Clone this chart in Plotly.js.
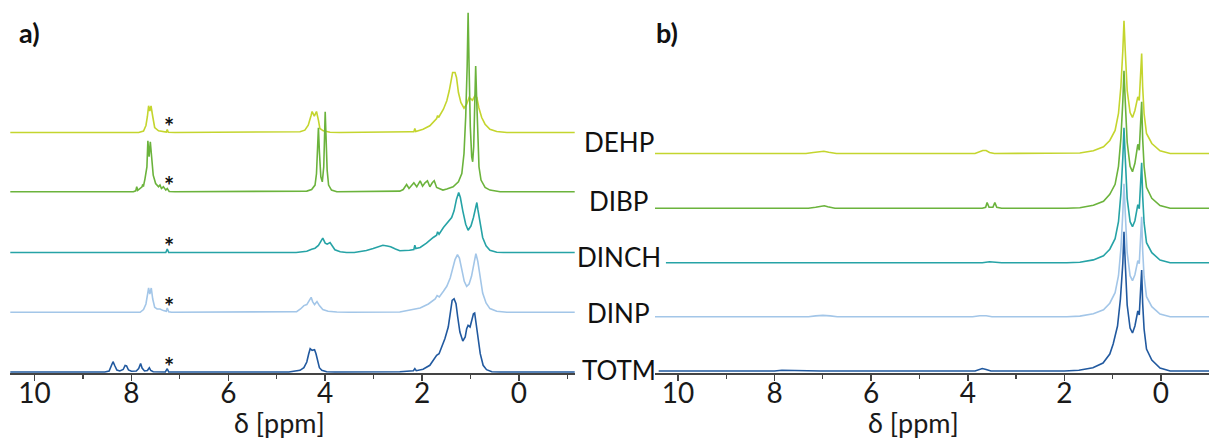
<!DOCTYPE html>
<html>
<head>
<meta charset="utf-8">
<script src="https://cdn.plot.ly/plotly-3.0.1.min.js"></script>
<style>html,body{margin:0;padding:0;background:#fff}#chart{width:1209px;height:438px}</style>
</head>
<body>
<div id="chart"></div>
<script>
// ---- Data: [chemical shift (ppm), intensity (arb. units)] ----
const names = ["DEHP", "DIBP", "DINCH", "DINP", "TOTM"];

const DEHP_a = [[10.5,0],[7.85,0],[7.75,1.5],[7.70,7],[7.67,16],[7.645,26.7],[7.62,21.5],[7.595,26.5],[7.56,16],[7.52,5],[7.44,1.7],[7.35,0.7],[7.28,0.5],[7.26,3],[7.24,0.3],[7.1,0],
[4.6,0],[4.52,0.7],[4.42,2.3],[4.35,7.3],[4.29,17.3],[4.27,21],[4.225,16.3],[4.18,21],[4.14,12.3],[4.11,4],[4.04,1.7],[3.9,0.3],[3.7,0],
[2.46,0],[2.25,0.7],[2.17,0.8],[2.15,4],[2.13,1],[1.98,3.3],[1.84,6.7],[1.73,11.7],[1.70,14],[1.68,17],[1.66,15],[1.56,23.3],[1.49,31.7],[1.44,41.7],[1.40,55],[1.37,60],[1.32,60],[1.29,55],[1.25,40],[1.20,30],[1.135,24.3],[1.08,28.3],[1.03,35],[0.99,33.3],[0.96,32.3],[0.91,36.7],[0.87,35],[0.83,25],[0.77,15],[0.70,8.3],[0.60,3.3],[0.46,1],[0.25,0],[-1.15,0]];

const DIBP_a = [[10.5,0],[7.96,0],[7.91,1],[7.89,5],[7.87,1.5],[7.82,3.3],[7.78,5],[7.77,6.7],[7.75,6],[7.72,13],[7.68,25],[7.66,51],[7.635,35],[7.61,50],[7.58,35],[7.55,16.7],[7.50,8.3],[7.44,5],[7.41,6.7],[7.38,3.3],[7.34,5],[7.29,1.7],[7.26,3.3],[7.22,0.3],[7.1,0],
[4.45,0],[4.38,0.7],[4.28,2.3],[4.21,6.7],[4.18,18],[4.155,45],[4.14,64],[4.12,40],[4.09,15],[4.06,10],[4.03,25],[4.01,61.7],[4.00,80],[3.985,58],[3.96,21.7],[3.93,6.7],[3.87,1.7],[3.76,0],
[2.5,0],[2.46,0.7],[2.39,2.3],[2.32,7.3],[2.27,3.3],[2.21,6.7],[2.17,9],[2.11,5],[2.04,11],[1.99,5.7],[1.94,9],[1.89,11],[1.84,5],[1.79,9],[1.75,11],[1.70,4.3],[1.63,3.3],[1.57,1.7],[1.49,2.7],[1.36,5],[1.25,10],[1.18,18.3],[1.135,38.3],[1.10,75],[1.07,125],[1.05,179],[1.03,125],[1.005,65],[0.976,35],[0.956,30],[0.935,45],[0.915,85],[0.894,125.7],[0.873,91.7],[0.852,48.3],[0.826,25],[0.784,11.7],[0.70,4.3],[0.60,1.7],[0.39,0],[-1.15,0]];

const DINCH_a = [[10.5,0],[7.29,0],[7.26,3.5],[7.23,0],
[4.6,0],[4.52,0.3],[4.38,1.3],[4.28,3.3],[4.21,4.3],[4.14,7],[4.09,11],[4.05,14.3],[4.00,9.3],[3.96,8.3],[3.90,10],[3.85,6],[3.80,2.7],[3.69,0.7],[3.56,0],
[3.4,0],[3.29,0.7],[3.15,2],[3.01,4],[2.90,6],[2.81,7.3],[2.72,6.5],[2.65,5.7],[2.55,3.5],[2.46,1.7],[2.26,2.3],[2.17,3],[2.15,7.3],[2.13,4],[2.04,5],[1.91,9.3],[1.77,15],[1.70,17.3],[1.68,20.7],[1.65,18.3],[1.56,25],[1.49,29.3],[1.445,31.7],[1.39,35],[1.34,41.7],[1.29,53.3],[1.245,60],[1.21,55],[1.16,41.7],[1.10,28.3],[1.05,22.3],[0.99,26.7],[0.94,35],[0.90,45],[0.87,50],[0.85,43.3],[0.80,28.3],[0.75,15],[0.68,6.7],[0.60,2.3],[0.46,0.3],[0.32,0],[-1.15,0]];

const DINP_a = [[10.5,0],[7.82,0],[7.75,2.7],[7.70,8.3],[7.66,20],[7.645,24.3],[7.62,18.3],[7.59,24.3],[7.56,13.3],[7.52,5],[7.47,3.3],[7.41,3.3],[7.34,1.7],[7.28,1],[7.26,4.3],[7.23,0.5],[7.17,0],
[4.66,0],[4.59,0.7],[4.51,3.3],[4.44,6.7],[4.38,7.7],[4.33,11.7],[4.29,15],[4.26,10.7],[4.22,7.7],[4.17,10.7],[4.12,6.7],[4.05,2.7],[3.94,1],[3.76,0.3],[3.5,0],
[2.46,0.3],[2.25,2],[2.04,4.3],[1.87,8.3],[1.73,13.3],[1.69,16.7],[1.645,15.3],[1.56,21],[1.49,26],[1.42,34.3],[1.37,42.7],[1.32,52.7],[1.27,57.7],[1.23,54.3],[1.18,42.7],[1.13,31],[1.08,26],[1.03,28.3],[0.98,36],[0.93,49.3],[0.89,58.7],[0.85,51],[0.80,34.3],[0.75,19.3],[0.68,9.3],[0.60,3.7],[0.46,1],[0.25,0],[-1.15,0]];

const TOTM_a = [[10.5,0],[8.55,0],[8.46,1],[8.41,6],[8.38,10.3],[8.34,6],[8.30,2],[8.24,1],[8.17,2.5],[8.13,6.5],[8.10,6],[8.06,2],[8.00,0.7],[7.90,1],[7.85,3.5],[7.81,8.5],[7.78,4],[7.73,1],[7.67,1.5],[7.63,4.3],[7.60,1.5],[7.55,0.3],[7.30,0],[7.26,3.3],[7.23,0],
[4.75,0],[4.66,0.7],[4.52,1.7],[4.44,4.3],[4.38,10],[4.34,18.3],[4.31,23.3],[4.27,21.7],[4.22,22.3],[4.19,18.3],[4.155,10],[4.12,4.3],[4.07,1.7],[3.97,0.3],[3.8,0],
[2.46,0.3],[2.18,1.3],[2.15,3.3],[2.12,1.3],[1.98,2.7],[1.84,6.7],[1.77,11.7],[1.70,16.7],[1.65,18.3],[1.595,25],[1.53,33.3],[1.46,45],[1.41,60],[1.38,71.7],[1.34,73.3],[1.30,68.3],[1.265,55],[1.22,40],[1.16,31],[1.11,35],[1.08,43.3],[1.05,46.7],[1.01,45],[0.98,50],[0.94,58.3],[0.915,59],[0.89,50],[0.85,35],[0.80,18.3],[0.74,6.7],[0.67,2.3],[0.56,0.3],[0.39,0],[-1.15,0]];

const DEHP_b = [[10.5,0],[7.35,0],[7.2,1],[7.08,2],[6.98,2.2],[6.88,1.2],[6.72,0],[3.85,0],[3.76,1.5],[3.69,3],[3.62,3],[3.55,1],[3.45,0],[1.95,0],[1.68,0.5],[1.40,2.7],[1.19,6.7],[1.06,13],[0.95,23],[0.88,40],[0.83,67],[0.79,103],[0.766,132.7],[0.74,103],[0.70,63],[0.64,41],[0.59,36],[0.54,43],[0.48,56.7],[0.45,53],[0.40,100],[0.38,67],[0.35,40],[0.30,20],[0.19,10],[0.02,2.7],[-0.19,0],[-1.0,0]];

const DIBP_b = [[10.5,0],[7.3,0],[7.15,1],[7.05,2],[6.97,2.5],[6.9,1.5],[6.75,0],[3.7,0],[3.63,1],[3.60,5.7],[3.56,1],[3.48,1],[3.44,5.7],[3.40,1],[3.3,0],[1.95,0],[1.68,0.5],[1.40,3],[1.19,7],[1.06,14],[0.95,24],[0.88,42],[0.83,70],[0.79,107],[0.766,137.6],[0.74,107],[0.70,66],[0.64,42],[0.59,36.6],[0.54,45],[0.48,64],[0.45,58],[0.40,106.6],[0.38,70],[0.35,42],[0.30,21],[0.19,10],[0.02,2.7],[-0.19,0],[-1.0,0]];

const DINCH_b = [[10.25,0],[3.7,0],[3.55,1],[3.4,0.8],[3.3,0],[1.95,0],[1.68,0.5],[1.40,2.8],[1.19,7],[1.06,13.5],[0.95,24],[0.88,41],[0.83,69],[0.79,105],[0.766,135],[0.74,105],[0.70,64],[0.64,41],[0.59,36],[0.54,42],[0.48,58],[0.45,54],[0.40,100],[0.38,67],[0.35,40],[0.30,20],[0.19,10],[0.02,2.7],[-0.19,0],[-1.0,0]];

const DINP_b = [[10.5,0],[7.3,0],[7.15,0.8],[7.0,1.3],[6.85,0.8],[6.7,0],[3.9,0],[3.75,1],[3.62,1],[3.5,0],[1.95,0],[1.68,0.6],[1.40,3],[1.19,7],[1.06,13.5],[0.95,24],[0.88,41],[0.83,68],[0.79,104],[0.766,133],[0.74,104],[0.70,64],[0.64,41],[0.59,36],[0.54,42],[0.48,56],[0.45,53],[0.40,100],[0.38,67],[0.35,40],[0.30,20],[0.19,10],[0.02,2.7],[-0.19,0],[-1.0,0]];

const TOTM_b = [[10.4,0],[8.0,0],[7.85,0.8],[7.6,0.6],[7.4,0.8],[7.2,0.6],[7.05,0],[3.85,0],[3.77,1.5],[3.70,2.5],[3.62,1.5],[3.52,0],[2.0,0],[1.70,0.8],[1.41,3.3],[1.20,8],[1.06,17],[0.99,27],[0.90,45],[0.84,72],[0.79,108],[0.766,139.3],[0.74,108],[0.70,66],[0.64,43],[0.59,38],[0.54,45],[0.48,60],[0.45,56],[0.40,101],[0.38,68],[0.35,42],[0.30,22],[0.19,11],[0.02,3],[-0.19,0],[-1.0,0]];

// ---- Styling / layout settings ----
const colors = {DEHP:"#c4d52e", DIBP:"#6bb33c", DINCH:"#26a3a6", DINP:"#a3c6e8", TOTM:"#21599f"};
const offsetsA = {DEHP:239.5, DIBP:180.2, DINCH:119.5, DINP:59.7, TOTM:0};
const offsetsB = {DEHP:217.5, DIBP:162.7, DINCH:108.3, DINP:54.3, TOTM:0};
const spectraA = {DEHP:DEHP_a, DIBP:DIBP_a, DINCH:DINCH_a, DINP:DINP_a, TOTM:TOTM_a};
const spectraB = {DEHP:DEHP_b, DIBP:DIBP_b, DINCH:DINCH_b, DINP:DINP_b, TOTM:TOTM_b};

const FONT = "Lato, 'Open Sans', sans-serif";
const traces = [];
names.forEach(n => {
  traces.push({x: spectraA[n].map(p => p[0]), y: spectraA[n].map(p => p[1] + offsetsA[n]),
    xaxis:'x', yaxis:'y', mode:'lines', line:{color:colors[n], width:1.6}, name:n, hoverinfo:'skip'});
});
names.forEach(n => {
  traces.push({x: spectraB[n].map(p => p[0]), y: spectraB[n].map(p => p[1] + offsetsB[n]),
    xaxis:'x2', yaxis:'y2', mode:'lines', line:{color:colors[n], width:1.6}, name:n, hoverinfo:'skip'});
});

const W = 1209, H = 438;
const axisCommon = {
  showgrid:false, zeroline:false, showline:true, linecolor:'#444', linewidth:1.5,
  ticks:'outside', ticklen:6, tickwidth:1.5, tickcolor:'#444', ticklabelstandoff:-11,
  tick0:0, dtick:2, tickfont:{family:FONT, size:28, color:'#1a1a1a'},
  minor:{dtick:1, tick0:0, ticks:'outside', ticklen:4, tickwidth:1.2, tickcolor:'#444'},
  fixedrange:true
};
const yDomain = [(H-373)/H, 1];

const annotations = [];
// spectrum labels between panels
const labelY = {DEHP:141.7, DIBP:201.3, DINCH:257, DINP:313.3, TOTM:370};
names.forEach(n => annotations.push({text:n, xref:'paper', yref:'paper', x:619/W, y:(H-labelY[n])/H,
  xanchor:'center', yanchor:'middle', showarrow:false, font:{family:FONT, size:26, color:'#111'}}));
// solvent asterisks (CHCl3) in panel a
names.forEach(n => annotations.push({text:'<b>*</b>', xref:'x', yref:'y', x:7.22, y:offsetsA[n]+6,
  xanchor:'center', yanchor:'middle', showarrow:false, font:{family:FONT, size:24, color:'#111'}}));
// axis titles
annotations.push({text:'δ [ppm]', xref:'x', yref:'paper', x:4.94, y:(H-422.5)/H, xanchor:'center', yanchor:'middle',
  showarrow:false, font:{family:FONT, size:27, color:'#1a1a1a'}});
annotations.push({text:'δ [ppm]', xref:'x2', yref:'paper', x:5.13, y:(H-422.5)/H, xanchor:'center', yanchor:'middle',
  showarrow:false, font:{family:FONT, size:27, color:'#1a1a1a'}});
// panel letters
annotations.push({text:'<b>a)</b>', xref:'paper', yref:'paper', x:29.5/W, y:(H-32.5)/H, xanchor:'center', yanchor:'middle',
  showarrow:false, font:{family:FONT, size:27, color:'#111'}});
annotations.push({text:'<b>b)</b>', xref:'paper', yref:'paper', x:666.6/W, y:(H-32.5)/H, xanchor:'center', yanchor:'middle',
  showarrow:false, font:{family:FONT, size:27, color:'#111'}});

const layout = {
  width:W, height:H, margin:{l:0, r:0, t:0, b:0},
  paper_bgcolor:'#fff', plot_bgcolor:'rgba(0,0,0,0)', showlegend:false,
  xaxis: Object.assign({}, axisCommon, {domain:[10/W, 575/W], range:[10.506, -1.156], anchor:'y'}),
  xaxis2: Object.assign({}, axisCommon, {domain:[655/W, 1], range:[10.476, -0.994], anchor:'y2'}),
  yaxis: {domain:yDomain, range:[-1, 372], visible:false, fixedrange:true, anchor:'x'},
  yaxis2: {domain:yDomain, range:[-2, 371], visible:false, fixedrange:true, anchor:'x2'},
  annotations: annotations
};

Plotly.newPlot('chart', traces, layout, {displayModeBar:false, staticPlot:true});
</script>
</body>
</html>
